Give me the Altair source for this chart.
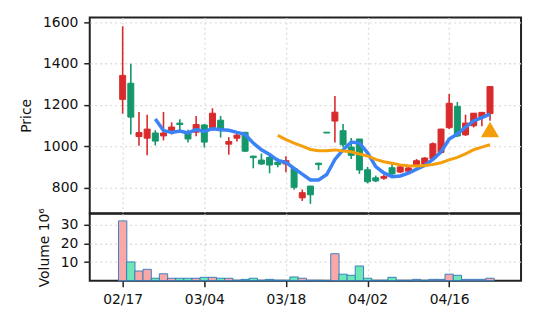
import altair as alt
import pandas as pd

# ---- data ----
opens  = [1227, 1305, 1047, 1039, 1064, 1050, 1073, 1112, 1070, 1068,
          1103, 1091, 1126, 1010, 1039, 1067, 952, 933, 946, 922,
          914, 892, 750, 807, 918, 1068, 1122, 1075, 996, 1035,
          886, 847, 845, 896, 875, 879, 902, 914, 940, 970,
          1090, 1193, 1055, 1099, 1140, 1158]
highs  = [1581, 1399, 1166, 1152, 1078, 1166, 1116, 1131, 1080, 1147,
          1107, 1184, 1147, 1044, 1064, 1070, 954, 965, 954, 943,
          952, 895, 790, 808, 920, 1068, 1243, 1108, 1040, 1035,
          900, 858, 863, 915, 904, 905, 938, 947, 1018, 1085,
          1253, 1214, 1153, 1160, 1166, 1289]
lows   = [1158, 1057, 1002, 956, 1004, 1028, 1057, 1065, 1018, 1048,
          994, 1075, 1042, 959, 1023, 972, 893, 909, 869, 898,
          874, 789, 735, 721, 885, 1064, 1018, 995, 938, 866,
          820, 826, 838, 860, 870, 874, 898, 910, 930, 962,
          1083, 1044, 1050, 1091, 1097, 1123]
closes = [1343, 1141, 1066, 1083, 1025, 1064, 1093, 1105, 1035, 1105,
          1020, 1160, 1078, 1023, 1054, 976, 945, 914, 909, 911,
          930, 801, 775, 765, 911, 1064, 1165, 1007, 956, 885,
          828, 832, 853, 866, 900, 895, 930, 943, 1012, 1083,
          1208, 1050, 1112, 1160, 1164, 1289]
volumes = [32.2, 10.1, 5.2, 6.1, 1.3, 3.7, 1.3, 1.3, 1.3, 1.3,
           1.8, 1.8, 1.3, 1.3, 0.2, 0.7, 1.3, 0.2, 0.7, 0.2,
           0.2, 2.0, 1.3, 0.2, 0.2, 0.1, 14.5, 3.5, 2.9, 7.9,
           1.3, 0.2, 0.2, 1.8, 0.2, 0.2, 0.7, 0.2, 0.7, 0.7,
           3.5, 2.9, 0.7, 0.7, 0.7, 1.3]
tick_idx = [0, 10, 20, 30, 40]
tick_labels = ["02/17", "03/04", "03/18", "04/02", "04/16"]
signal_idx = [45]
signal_price = [1081]

df = pd.DataFrame({
    "i": list(range(len(opens))),
    "open": opens, "high": highs, "low": lows, "close": closes,
    "volume": volumes,
})
sig = pd.DataFrame({"i": signal_idx, "price": signal_price})

RED = "#d92b2b"
GREEN = "#14976b"
PINK = "#f8a8a8"
MINT = "#6fe6b8"
BLUE = "#3b82f6"
ORANGE = "#f59e0b"

up = "datum.close >= datum.open"
label_expr = " : ".join(f"datum.value == {v} ? '{l}'" for v, l in zip(tick_idx, tick_labels)) + " : ''"

xscale = alt.Scale(domain=[-3.42, 48.19], nice=False, zero=False)
yscale = alt.Scale(domain=[675, 1624], nice=False, zero=False)

x_top = alt.X("i:Q", scale=xscale,
              axis=alt.Axis(values=tick_idx, labels=False, ticks=False, domain=False, title=None,
                            tickSize=0, labelPadding=0, minExtent=0, maxExtent=0, offset=0))
base = alt.Chart(df)

wick = base.mark_rule(strokeWidth=1.6).encode(
    x=x_top,
    y=alt.Y("low:Q", scale=yscale,
            axis=alt.Axis(values=[800, 1000, 1200, 1400, 1600], title="Price", format="d")),
    y2="high:Q",
    color=alt.condition(up, alt.value(RED), alt.value(GREEN)),
)
body = base.mark_bar(size=6, strokeWidth=1).encode(
    x=x_top,
    y=alt.Y("open:Q", scale=yscale),
    y2="close:Q",
    fill=alt.condition(up, alt.value(RED), alt.value(GREEN)),
    stroke=alt.condition(up, alt.value(RED), alt.value(GREEN)),
)
ma5 = base.transform_window(
    ma="mean(close)", n="count()", frame=[-4, 0], sort=[alt.SortField("i")]
).transform_filter("datum.n >= 5").mark_line(color=BLUE, strokeWidth=3.5).encode(
    x=x_top, y=alt.Y("ma:Q", scale=yscale)
)
ma20 = base.transform_window(
    ma="mean(close)", n="count()", frame=[-19, 0], sort=[alt.SortField("i")]
).transform_filter("datum.n >= 20").mark_line(color=ORANGE, strokeWidth=3).encode(
    x=x_top, y=alt.Y("ma:Q", scale=yscale)
)
signal = alt.Chart(sig).mark_point(shape="triangle-up", filled=True, size=330,
                                   color=ORANGE, opacity=1).encode(
    x=x_top, y=alt.Y("price:Q", scale=yscale)
)

top = alt.layer(wick, body, ma5, ma20, signal).properties(width=432.5, height=196.5)

vol = base.mark_bar(size=8.38, stroke="#2a78bd", strokeWidth=0.9).encode(
    x=alt.X("i:Q", scale=xscale,
            axis=alt.Axis(values=tick_idx, labelExpr=label_expr, title=None)),
    y=alt.Y("volume:Q", scale=alt.Scale(domain=[0, 36], nice=False),
            axis=alt.Axis(values=[10, 20, 30], title="Volume  10⁶")),
    fill=alt.condition(up, alt.value(PINK), alt.value(MINT)),
).properties(width=432.5, height=67)

chart = alt.vconcat(top, vol, spacing=0, bounds="flush").properties(
    padding={"left": 18, "top": 13, "right": 15, "bottom": 5},
    background="white",
).configure_view(
    stroke="#222222", strokeWidth=2
).configure_axis(
    labelFont="DejaVu Sans", labelFontSize=13.9, labelColor="#111111",
    titleFont="DejaVu Sans", titleFontSize=13.9, titleFontWeight="normal", titleColor="#111111",
    tickColor="#222222", tickSize=6, tickWidth=1.5, labelPadding=6, titlePadding=9,
    domain=False, gridColor="#dddddd", gridDash=[2, 3], gridWidth=1.3,
)

chart.save("out.html", embed_options={"renderer": "svg", "actions": False})
